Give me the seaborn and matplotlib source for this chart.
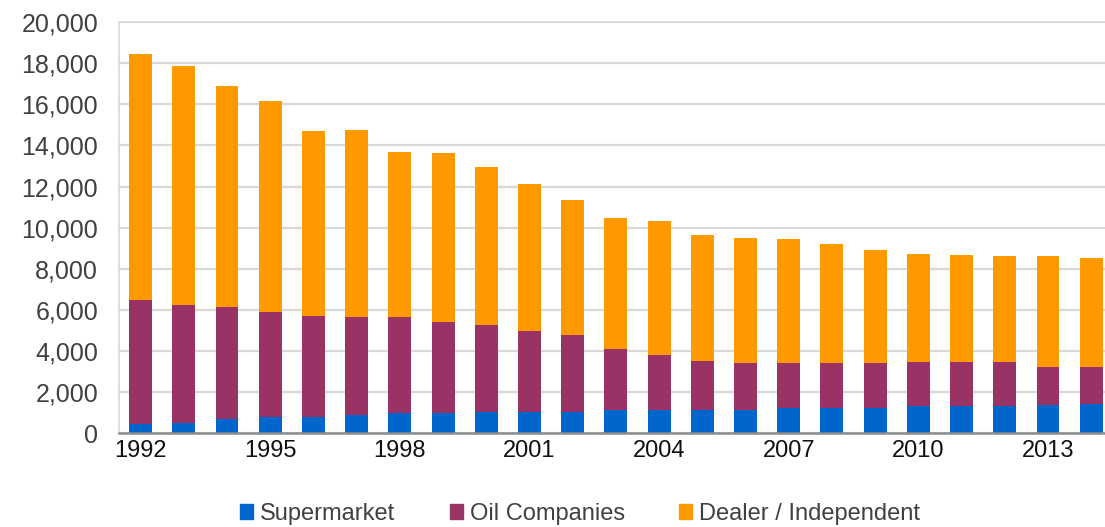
import numpy as np
import pandas as pd
import seaborn as sns
import matplotlib.pyplot as plt
from matplotlib.patches import Patch
from matplotlib.ticker import FuncFormatter

years = list(range(1992, 2015))

# stacked layer values (number of sites)
supermarket = [440, 520, 680, 810, 810, 890, 970, 970, 1050, 1050, 1050,
               1120, 1120, 1120, 1120, 1220, 1220, 1220, 1300, 1300, 1300, 1370, 1430]
oil_companies = [6030, 5720, 5480, 5110, 4880, 4740, 4660, 4420, 4220, 3900, 3750,
                 2990, 2700, 2410, 2290, 2190, 2190, 2190, 2180, 2180, 2180, 1850, 1790]
dealer = [11970, 11630, 10710, 10250, 8990, 9130, 8060, 8220, 7690, 7170, 6550,
          6380, 6510, 6100, 6100, 6020, 5790, 5500, 5250, 5200, 5140, 5400, 5320]

df = pd.DataFrame({
    "Year": [str(y) for y in years],
    "Supermarket": supermarket,
    "Oil Companies": oil_companies,
    "Dealer / Independent": dealer,
})
df["lvl2"] = df["Supermarket"] + df["Oil Companies"]
df["total"] = df["lvl2"] + df["Dealer / Independent"]

colors = {"Supermarket": "#0066CC", "Oil Companies": "#993366",
          "Dealer / Independent": "#FF9900"}

sns.set_style("white")
plt.rcParams["font.family"] = ["Liberation Sans", "DejaVu Sans"]

fig = plt.figure(figsize=(11.05, 5.27), dpi=100)
ax = fig.add_axes([0.1077, 0.178, 0.8923, 0.780])

# draw cumulative heights back to front so they look stacked
for col, key in [("total", "Dealer / Independent"), ("lvl2", "Oil Companies"),
                 ("Supermarket", "Supermarket")]:
    sns.barplot(data=df, x="Year", y=col, color=colors[key], width=0.53,
                saturation=1, linewidth=0, ax=ax, zorder=3)

ax.set_ylim(0, 20000)
ax.set_xlim(-0.5, 22.32)
ax.set_yticks(np.arange(0, 20001, 2000))
ax.yaxis.set_major_formatter(FuncFormatter(lambda v, p: f"{int(v):,}"))
ax.set_xticks(range(0, 23, 3))
ax.set_xticklabels([str(y) for y in years[::3]])
ax.set_xlabel("")
ax.set_ylabel("")

ax.grid(axis="y", color="#d9d9d9", linewidth=1.6, zorder=0)
ax.set_axisbelow(True)
for side in ["top", "left"]:
    ax.spines[side].set_color("#d9d9d9")
    ax.spines[side].set_linewidth(1.2)
ax.spines["right"].set_visible(False)
ax.spines["bottom"].set_color("#8c8c8c")
ax.spines["bottom"].set_linewidth(1.8)
ax.spines["bottom"].set_zorder(5)

ax.tick_params(axis="y", length=0, pad=15, labelsize=18, labelcolor="#404040")
ax.tick_params(axis="x", length=0, pad=5, labelsize=17, labelcolor="#111111")

handles = [Patch(color=c, label=k) for k, c in colors.items()]
fig.legend(handles=handles, loc="center", bbox_to_anchor=(0.525, 0.025), ncol=3,
           frameon=False, fontsize=17, handlelength=0.55, handleheight=0.55,
           handletextpad=0.3, columnspacing=2.3, labelcolor="#404040")

fig.savefig("out.png", dpi=100)
